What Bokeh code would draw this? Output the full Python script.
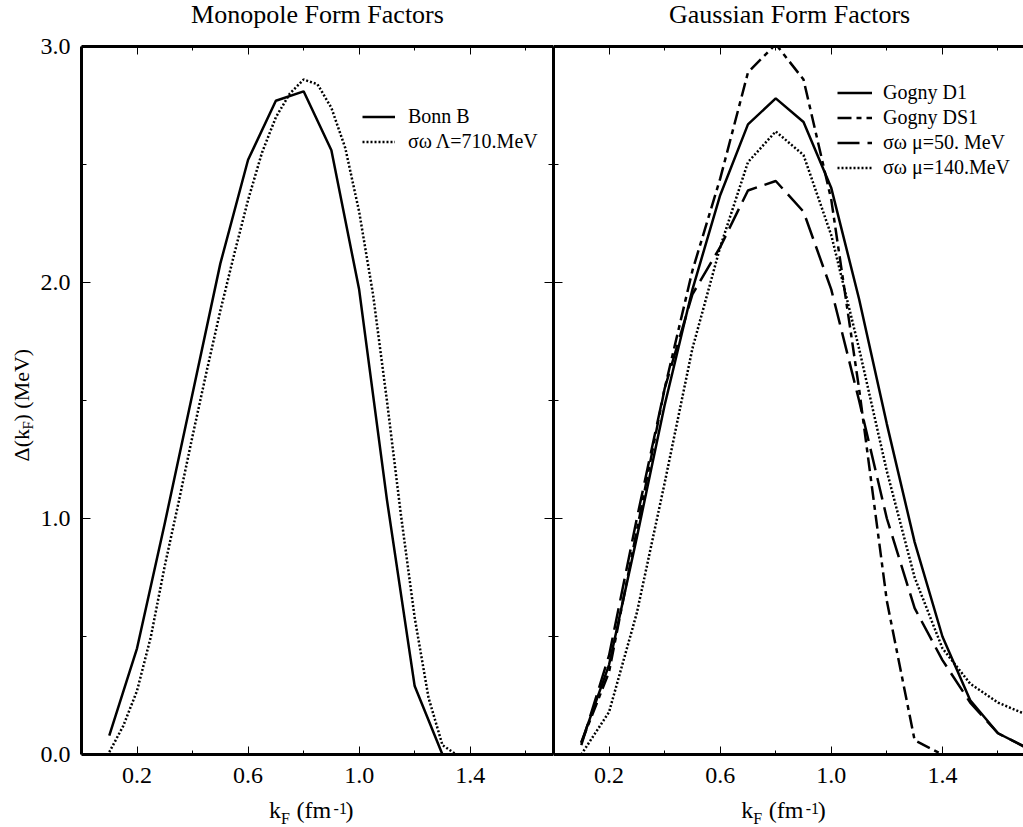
import math
from bokeh.plotting import figure
from bokeh.models import (Range1d, LinearAxis, FixedTicker, PrintfTickFormatter,
                          Label, Legend, LegendItem)
from bokeh.layouts import row, column
from bokeh.embed import file_html
from bokeh.resources import INLINE

# ---------------- data ----------------
kf_bonn = [0.1, 0.2, 0.3, 0.4, 0.5, 0.6, 0.7, 0.8, 0.9, 1.0, 1.1, 1.2, 1.3]
bonn_b = [0.08, 0.45, 0.98, 1.53, 2.08, 2.52, 2.77, 2.81, 2.56, 1.97, 1.08, 0.29, 0.00]

kf_lambda = [0.10, 0.15, 0.20, 0.25, 0.30, 0.35, 0.40, 0.45, 0.50, 0.55, 0.60, 0.65,
             0.70, 0.75, 0.80, 0.85, 0.90, 0.95, 1.00, 1.05, 1.10, 1.15, 1.20, 1.25,
             1.30, 1.35]
so_lambda710 = [0.01, 0.12, 0.27, 0.50, 0.80, 1.07, 1.35, 1.62, 1.88, 2.12, 2.35, 2.55,
                2.70, 2.80, 2.86, 2.84, 2.74, 2.57, 2.30, 1.95, 1.50, 1.02, 0.58, 0.24,
                0.04, 0.00]

kf_gauss = [0.1, 0.2, 0.3, 0.4, 0.5, 0.6, 0.7, 0.8, 0.9, 1.0, 1.1, 1.2, 1.3, 1.4, 1.5, 1.6, 1.7]
gogny_d1 = [0.05, 0.38, 0.92, 1.48, 1.97, 2.37, 2.67, 2.78, 2.68, 2.40, 1.93, 1.40, 0.90, 0.50, 0.23, 0.09, 0.03]
gogny_ds1 = [0.05, 0.35, 0.95, 1.55, 2.05, 2.44, 2.89, 3.01, 2.86, 2.35, 1.55, 0.65, 0.06, 0.00, 0.00, 0.00, 0.00]
so_mu50 = [0.04, 0.42, 1.00, 1.55, 1.95, 2.15, 2.39, 2.43, 2.30, 1.97, 1.50, 1.00, 0.62, 0.40, 0.22, 0.09, 0.03]
so_mu140 = [0.00, 0.18, 0.60, 1.15, 1.72, 2.15, 2.51, 2.64, 2.54, 2.20, 1.72, 1.20, 0.75, 0.45, 0.30, 0.22, 0.17]

x_major = [0.2, 0.6, 1.0, 1.4]
x_minor = [0.4, 0.8, 1.2, 1.6]
y_major = [0.0, 1.0, 2.0, 3.0]
y_minor = [0.5, 1.5, 2.5]

titles = ["Monopole Form Factors", "Gaussian Form Factors"]
mono_labels = ["Bonn B", "σω Λ=710.MeV"]
gauss_labels = ["Gogny D1", "Gogny DS1", "σω μ=50. MeV", "σω μ=140.MeV"]

FONT = "Liberation Serif"
FRAME_H = 708
FRAME_W = 472
PX_PER_X = 277.8
TOP_B, BOT_B = 14, 42
TITLE_H, XLAB_H, YLAB_W = 32, 31, 37
LEFT_B = 81 - YLAB_W
BASE_FIX = 0.36  # label anchor correction, in em


def make_axis(kind, show_labels):
    if kind == "x":
        ax = LinearAxis(ticker=FixedTicker(ticks=x_major, minor_ticks=x_minor),
                        formatter=PrintfTickFormatter(format="%.1f"))
        ax.major_tick_in = 8
        ax.minor_tick_in = 4
        ax.major_label_standoff = 13
    else:
        ax = LinearAxis(ticker=FixedTicker(ticks=y_major, minor_ticks=y_minor),
                        formatter=PrintfTickFormatter(format="%.1f"))
        ax.major_tick_in = 9
        ax.minor_tick_in = 5
        ax.major_label_standoff = 11
    ax.major_tick_out = 0
    ax.minor_tick_out = 0
    ax.axis_line_width = 3
    ax.axis_line_color = "black"
    ax.major_tick_line_width = 1
    ax.minor_tick_line_width = 1
    ax.major_tick_line_color = "black"
    ax.minor_tick_line_color = "black"
    ax.major_label_text_font = FONT
    if show_labels:
        ax.major_label_text_font_size = "24px"
        ax.major_label_text_color = "black"
    else:
        ax.major_label_text_font_size = "0px"
        ax.major_label_text_color = None
        ax.major_label_standoff = 0
    return ax


def bare_fig(fw, fh, x_range, y_range, left=0, right=0, top=0, bottom=0):
    p = figure(frame_width=fw, frame_height=fh, x_range=x_range, y_range=y_range,
               output_backend="svg", toolbar_location=None,
               x_axis_location=None, y_axis_location=None, min_border=0,
               min_border_left=left, min_border_right=right,
               min_border_top=top, min_border_bottom=bottom)
    p.grid.visible = False
    p.outline_line_color = None
    p.background_fill_color = "white"
    p.border_fill_color = "white"
    return p


def make_panel(frame_w, x_range, y_range, border_left, right_axis):
    p = bare_fig(frame_w, FRAME_H, x_range, y_range, left=border_left,
                 top=TOP_B, bottom=BOT_B)
    p.add_layout(make_axis("x", True), "below")
    p.add_layout(make_axis("x", False), "above")
    p.add_layout(make_axis("y", border_left > 0), "left")
    if right_axis:
        p.add_layout(make_axis("y", False), "right")
    return p


def style_legend(items, loc, glyph_w, standoff):
    return Legend(items=items, location=loc, orientation="vertical",
                  padding=0, margin=0, spacing=0, glyph_width=glyph_w,
                  glyph_height=25, label_height=25, label_standoff=standoff,
                  label_text_font=FONT, label_text_font_size="20px",
                  label_text_color="black", border_line_color=None,
                  background_fill_alpha=0)


def title_fig(frame_w, x_range, border_left, text):
    t = bare_fig(frame_w, TITLE_H, x_range, Range1d(0, TITLE_H), left=border_left)
    t.add_layout(Label(x=0.85, y=TITLE_H - 23 + BASE_FIX * 26, text=text, text_font=FONT,
                       text_font_size="26px", text_align="center",
                       text_baseline="alphabetic", text_color="black"))
    return t


def xlabel_fig(frame_w, x_range, border_left):
    b = bare_fig(frame_w, XLAB_H, x_range, Range1d(0, XLAB_H), left=border_left)
    base = 9
    pieces = [("k", -41.5, 24, 0),
              ("F", -29.5, 16, -6),
              ("(fm", -14.0, 24, 0),
              ("-1", 23.0, 16, 4),
              (")", 35.0, 24, 0)]
    for txt, dx, size, dy in pieces:
        b.add_layout(Label(x=0.825, y=base + dy + BASE_FIX * size, x_offset=dx, text=txt,
                           text_font=FONT, text_font_size=f"{size}px", text_align="left",
                           text_baseline="alphabetic", text_color="black"))
    return b


def ylabel_fig(y_range):
    f = bare_fig(YLAB_W, FRAME_H, Range1d(0, YLAB_W), y_range, top=TOP_B, bottom=BOT_B)
    ppy = FRAME_H / 3.0
    pieces = [("Δ(k", 29, (754 - 461) / ppy, 22),
              ("F", 33, (754 - 429) / ppy, 15),
              (") (MeV)", 29, (754 - 421) / ppy, 22)]
    for txt, x, y, size in pieces:
        f.add_layout(Label(x=x - BASE_FIX * size, y=y, text=txt, angle=math.pi / 2,
                           text_font=FONT, text_font_size=f"{size}px", text_align="left",
                           text_baseline="alphabetic", text_color="black"))
    return f


# ---------------- ranges ----------------
x1 = Range1d(0, 1.7)
x2 = Range1d(0, 470 / PX_PER_X)
y1 = Range1d(0, 3.0)
y2 = Range1d(0, 3.0)

# ---------------- left panel ----------------
p1 = make_panel(FRAME_W, x1, y1, LEFT_B, True)
r_bonn = p1.line(kf_bonn, bonn_b, line_color="black", line_width=2.5)
r_lam = p1.line(kf_lambda, so_lambda710, line_color="black", line_width=2.5,
                line_dash="2 2")
p1.add_layout(style_legend([LegendItem(label=mono_labels[0], renderers=[r_bonn]),
                            LegendItem(label=mono_labels[1], renderers=[r_lam])],
                           (281, 600), 33, 13))

# ---------------- right panel ----------------
p2 = make_panel(470, x2, y2, 0, False)
r_d1 = p2.line(kf_gauss, gogny_d1, line_color="black", line_width=2.5)
r_ds1 = p2.line(kf_gauss, gogny_ds1, line_color="black", line_width=2.5,
                line_dash="14 5 5 5")
r_m50 = p2.line(kf_gauss, so_mu50, line_color="black", line_width=2.5,
                line_dash="22 8")
r_m140 = p2.line(kf_gauss, so_mu140, line_color="black", line_width=2.5,
                 line_dash="2 2")
p2.add_layout(style_legend([LegendItem(label=gauss_labels[0], renderers=[r_d1]),
                            LegendItem(label=gauss_labels[1], renderers=[r_ds1]),
                            LegendItem(label=gauss_labels[2], renderers=[r_m50]),
                            LegendItem(label=gauss_labels[3], renderers=[r_m140])],
                           (284, 574), 35, 11))

layout = column(
    row(title_fig(FRAME_W, x1, 81, titles[0]), title_fig(470, x2, 0, titles[1])),
    row(ylabel_fig(y1), p1, p2),
    row(xlabel_fig(FRAME_W, x1, 81), xlabel_fig(470, x2, 0)),
)
open("out.html", "w").write(file_html(layout, INLINE))
